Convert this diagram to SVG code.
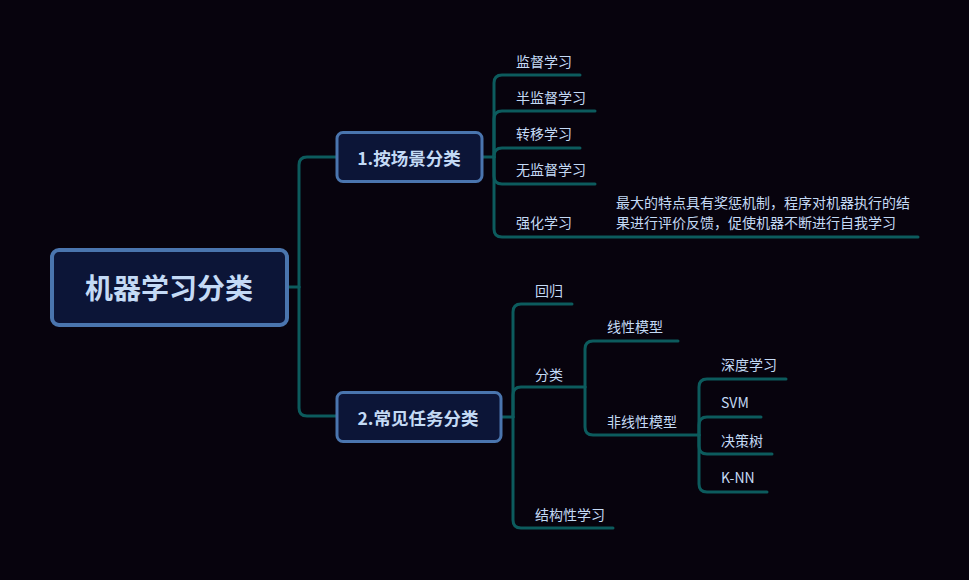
<svg xmlns="http://www.w3.org/2000/svg" width="969" height="580" viewBox="0 0 969 580">
<style>
.bg{fill:#07030d}
.box{fill:#0c1537;stroke:#4a75ae;stroke-width:3}
.root{stroke-width:4}
.ln{fill:none;stroke:#0c5b5d;stroke-width:3;stroke-linecap:round;stroke-linejoin:round}
text{font-family:"Noto Sans CJK SC","Noto Sans",sans-serif;fill:#c4daf5}
.t{font-size:14px;dominant-baseline:central}
.b{font-weight:bold;text-anchor:middle;dominant-baseline:central}
</style>
<rect class="bg" x="0" y="0" width="969" height="580"/>
<g id="connectors">
<path class="ln" d="M287 287 H299"/>
<path class="ln" d="M299 287 V165 Q299 157 307 157 H337"/>
<path class="ln" d="M299 287 V408 Q299 416 307 416 H337"/>
<path class="ln" d="M482 157 H494"/>
<path class="ln" d="M494 157 V83 Q494 75 502 75 H580"/>
<path class="ln" d="M494 157 V119 Q494 111 502 111 H595"/>
<path class="ln" d="M494 157 V156 Q494 148 502 148 H580"/>
<path class="ln" d="M494 157 V176 Q494 184 502 184 H595"/>
<path class="ln" d="M494 157 V229 Q494 237 502 237 H918"/>
<path class="ln" d="M501 417 H513"/>
<path class="ln" d="M513 417 V312 Q513 304 521 304 H572"/>
<path class="ln" d="M513 417 V395 Q513 387 521 387 H585"/>
<path class="ln" d="M513 417 V520 Q513 528 521 528 H613"/>
<path class="ln" d="M585 387 V349 Q585 341 593 341 H678"/>
<path class="ln" d="M585 387 V427 Q585 435 593 435 H699"/>
<path class="ln" d="M699 435 V387 Q699 379 707 379 H786"/>
<path class="ln" d="M699 435 V425 Q699 417 707 417 H761"/>
<path class="ln" d="M699 435 V446 Q699 454 707 454 H772"/>
<path class="ln" d="M699 435 V484 Q699 492 707 492 H767"/>
</g>
<g id="root">
<rect class="box root" x="52" y="250" width="235" height="75" rx="7"/>
<text class="b" x="169" y="287" font-size="28">机器学习分类</text>
</g>
<g id="n1">
<rect class="box" x="337" y="132.5" width="145" height="49" rx="6"/>
<text class="b" x="409" y="157" font-size="17.5">1.按场景分类</text>
</g>
<g id="n2">
<rect class="box" x="337" y="392.5" width="164" height="49" rx="6"/>
<text class="b" x="418" y="417" font-size="17.5">2.常见任务分类</text>
</g>
<g id="n1a"><text class="t" x="516" y="61">监督学习</text></g>
<g id="n1b"><text class="t" x="516" y="97">半监督学习</text></g>
<g id="n1c"><text class="t" x="516" y="133">转移学习</text></g>
<g id="n1d"><text class="t" x="516" y="169">无监督学习</text></g>
<g id="n1e"><text class="t" x="516" y="222">强化学习</text></g>
<g id="n1e-note">
<text class="t" x="616" y="202">最大的特点具有奖惩机制，程序对机器执行的结</text>
<text class="t" x="616" y="222.4">果进行评价反馈，促使机器不断进行自我学习</text>
</g>
<g id="n2a"><text class="t" x="535" y="290">回归</text></g>
<g id="n2b"><text class="t" x="535" y="374">分类</text></g>
<g id="n2c"><text class="t" x="535" y="514">结构性学习</text></g>
<g id="n2b1"><text class="t" x="607" y="326">线性模型</text></g>
<g id="n2b2"><text class="t" x="607" y="421">非线性模型</text></g>
<g id="n2b2a"><text class="t" x="721" y="364">深度学习</text></g>
<g id="n2b2b"><text class="t" x="721" y="402">SVM</text></g>
<g id="n2b2c"><text class="t" x="721" y="440">决策树</text></g>
<g id="n2b2d"><text class="t" x="721" y="477">K-NN</text></g>
</svg>
